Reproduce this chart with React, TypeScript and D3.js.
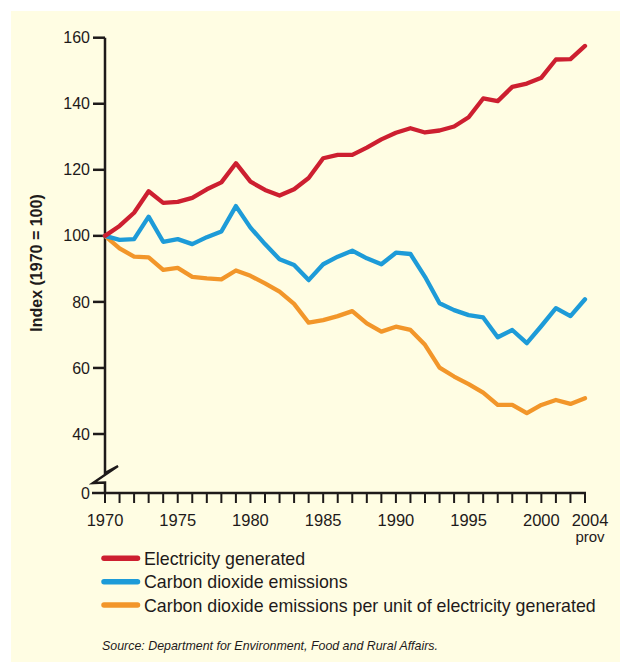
import React from "react";
import * as d3 from "d3";

const years = [1970,1971,1972,1973,1974,1975,1976,1977,1978,1979,1980,1981,1982,1983,1984,1985,1986,1987,1988,1989,1990,1991,1992,1993,1994,1995,1996,1997,1998,1999,2000,2001,2002,2003];
const electricity = [100,103,107,113.5,110,110.3,111.5,114.1,116.2,122,116.4,113.9,112.2,114.1,117.5,123.5,124.5,124.5,126.7,129.2,131.2,132.6,131.3,131.9,133.1,135.9,141.6,140.8,145.1,146.1,147.9,153.4,153.5,157.5];
const co2 = [100,98.8,99,105.8,98.2,99,97.5,99.6,101.3,109,102.5,97.5,92.9,91.2,86.6,91.4,93.7,95.5,93.2,91.4,94.9,94.5,87.6,79.6,77.5,76,75.3,69.3,71.5,67.5,72.7,78.1,75.7,80.8];
const perUnit = [100,96.2,93.7,93.5,89.7,90.3,87.6,87.1,86.8,89.5,87.9,85.6,83.1,79.4,73.7,74.5,75.7,77.2,73.5,71,72.5,71.5,67,60.1,57.4,55.1,52.5,48.8,48.8,46.3,48.8,50.3,49.1,50.8];

const yTicks = [40, 60, 80, 100, 120, 140, 160];
const xTickYears = [1970, 1975, 1980, 1985, 1990, 1995, 2000, 2003];
const xTickLabels = ["1970", "1975", "1980", "1985", "1990", "1995", "2000", "2004"];
const seriesNames = [
  "Electricity generated",
  "Carbon dioxide emissions",
  "Carbon dioxide emissions per unit of electricity generated",
];
const seriesColors = ["#cd1f30", "#1d9bd8", "#f2962a"];
const sourceText = "Source: Department for Environment, Food and Rural Affairs.";
const yTitle = "Index (1970 = 100)";

const W = 620;
const H = 662;
const FONT = "'Liberation Sans', Arial, Helvetica, sans-serif";
const AXIS = "#1e1a1a";

export default function App() {
  const x = d3.scaleLinear().domain([1970, 2003]).range([105, 585]);
  const y = d3.scaleLinear().domain([40, 160]).range([434, 37.7]);
  const baseY = 493;
  const axisX = x(1970);

  const line = d3
    .line<number>()
    .x((_, i) => x(years[i]))
    .y((d) => y(d));

  const series = [electricity, co2, perUnit];

  return (
    <svg
      width={W}
      height={H}
      style={{ position: "absolute", left: 0, top: 0, display: "block" }}
      fontFamily={FONT}
    >
      <rect x={0} y={0} width={W} height={H} fill="#ffffff" />
      <rect x={11} y={11} width={W - 11} height={H - 11} fill="#fffde3" />

      {/* y axis title */}
      <text
        transform={`translate(41.5, 263) rotate(-90)`}
        textAnchor="middle"
        fontSize={16}
        fontWeight="bold"
        fill="#1e1a1a"
      >
        {yTitle}
      </text>

      {/* y ticks and labels */}
      {yTicks.map((t) => (
        <g key={t}>
          <line x1={axisX - 12} x2={axisX} y1={y(t)} y2={y(t)} stroke={AXIS} strokeWidth={2.5} />
          <text x={axisX - 15} y={y(t) + 5.6} textAnchor="end" fontSize={16} fill="#1e1a1a">
            {t}
          </text>
        </g>
      ))}
      <line x1={axisX - 13} x2={axisX} y1={baseY} y2={baseY} stroke={AXIS} strokeWidth={2.5} />
      <text x={axisX - 15} y={baseY + 5.6} textAnchor="end" fontSize={16} fill="#1e1a1a">
        0
      </text>

      {/* y axis with break */}
      <path
        d={`M${axisX},${y(160)} V${baseY - 20} L${axisX + 13},${baseY - 27} L${axisX - 12},${baseY - 10} L${axisX},${baseY - 10.5} V${baseY}`}
        fill="none"
        stroke={AXIS}
        strokeWidth={2.5}
        strokeLinejoin="miter"
      />

      {/* x axis */}
      <line x1={axisX} x2={x(2003) + 1} y1={baseY} y2={baseY} stroke={AXIS} strokeWidth={2.5} />
      {years.map((yr) => (
        <line key={yr} x1={x(yr)} x2={x(yr)} y1={baseY} y2={baseY + 10} stroke={AXIS} strokeWidth={2} />
      ))}
      {xTickYears.map((yr, i) => (
        <text
          key={yr}
          x={x(yr) + (i === xTickYears.length - 1 ? 5 : 0)}
          y={baseY + 33}
          textAnchor="middle"
          fontSize={16.5}
          fill="#1e1a1a"
        >
          {xTickLabels[i]}
        </text>
      ))}
      <text x={x(2003) + 5} y={baseY + 49} textAnchor="middle" fontSize={15} fill="#1e1a1a">
        prov
      </text>

      {/* series lines */}
      {[2, 1, 0].map((k) => (
        <path
          key={k}
          d={line(series[k]) || ""}
          fill="none"
          stroke={seriesColors[k]}
          strokeWidth={4.3}
          strokeLinejoin="round"
          strokeLinecap="round"
        />
      ))}

      {/* legend */}
      {seriesNames.map((name, i) => {
        const ly = 558.3 + i * 23.4;
        return (
          <g key={name}>
            <line x1={104} x2={137.5} y1={ly} y2={ly} stroke={seriesColors[i]} strokeWidth={5.5} strokeLinecap="round" />
            <text x={144} y={ly + 6.5} fontSize={17.8} fill="#1e1a1a">
              {name}
            </text>
          </g>
        );
      })}

      {/* source */}
      <text
        x={102}
        y={650}
        fontSize={13.5}
        fontStyle="italic"
        fill="#1e1a1a"
        textLength={336}
        lengthAdjust="spacingAndGlyphs"
      >
        {sourceText}
      </text>
    </svg>
  );
}
